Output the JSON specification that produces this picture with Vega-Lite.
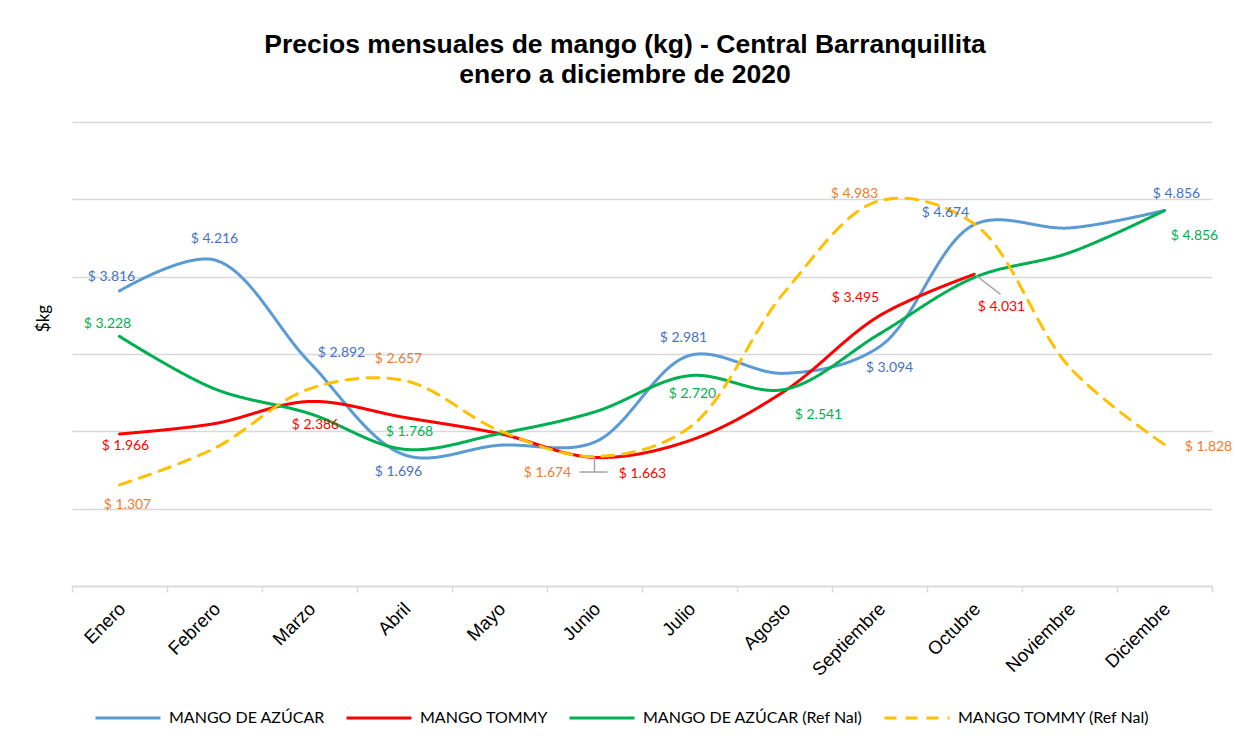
{
  "$schema": "https://vega.github.io/schema/vega-lite/v6.json",
  "width": 1140,
  "height": 464,
  "autosize": {"type": "none"},
  "padding": {"left": 72, "top": 122, "right": 26, "bottom": 161},
  "background": "white",
  "title": {
    "text": ["Precios mensuales de mango (kg) - Central Barranquillita", "enero a diciembre de 2020"],
    "font": "Liberation Sans",
    "fontSize": 26.5,
    "fontWeight": "bold",
    "color": "#000000",
    "lineHeight": 30,
    "anchor": "middle",
    "dx": -17,
    "offset": 34
  },
  "config": {
    "view": {"stroke": null},
    "locale": {"number": {"decimal": ".", "thousands": ",", "grouping": [3], "currency": ["$ ", ""]}},
    "text": {"font": "Lato", "fontSize": 14}
  },
  "data": {
    "values": [
      {"s": "MANGO DE AZÚCAR", "m": "Enero", "v": 3.816},
      {"s": "MANGO DE AZÚCAR", "m": "Febrero", "v": 4.216},
      {"s": "MANGO DE AZÚCAR", "m": "Marzo", "v": 2.892},
      {"s": "MANGO DE AZÚCAR", "m": "Abril", "v": 1.696},
      {"s": "MANGO DE AZÚCAR", "m": "Mayo", "v": 1.82},
      {"s": "MANGO DE AZÚCAR", "m": "Junio", "v": 1.86},
      {"s": "MANGO DE AZÚCAR", "m": "Julio", "v": 2.981},
      {"s": "MANGO DE AZÚCAR", "m": "Agosto", "v": 2.75},
      {"s": "MANGO DE AZÚCAR", "m": "Septiembre", "v": 3.094},
      {"s": "MANGO DE AZÚCAR", "m": "Octubre", "v": 4.674},
      {"s": "MANGO DE AZÚCAR", "m": "Noviembre", "v": 4.63},
      {"s": "MANGO DE AZÚCAR", "m": "Diciembre", "v": 4.856},
      {"s": "MANGO TOMMY", "m": "Enero", "v": 1.966},
      {"s": "MANGO TOMMY", "m": "Febrero", "v": 2.10},
      {"s": "MANGO TOMMY", "m": "Marzo", "v": 2.386},
      {"s": "MANGO TOMMY", "m": "Abril", "v": 2.18},
      {"s": "MANGO TOMMY", "m": "Mayo", "v": 1.97},
      {"s": "MANGO TOMMY", "m": "Junio", "v": 1.663},
      {"s": "MANGO TOMMY", "m": "Julio", "v": 1.88},
      {"s": "MANGO TOMMY", "m": "Agosto", "v": 2.52},
      {"s": "MANGO TOMMY", "m": "Septiembre", "v": 3.495},
      {"s": "MANGO TOMMY", "m": "Octubre", "v": 4.031},
      {"s": "MANGO DE AZÚCAR (Ref Nal)", "m": "Enero", "v": 3.228},
      {"s": "MANGO DE AZÚCAR (Ref Nal)", "m": "Febrero", "v": 2.55},
      {"s": "MANGO DE AZÚCAR (Ref Nal)", "m": "Marzo", "v": 2.23},
      {"s": "MANGO DE AZÚCAR (Ref Nal)", "m": "Abril", "v": 1.768},
      {"s": "MANGO DE AZÚCAR (Ref Nal)", "m": "Mayo", "v": 1.97},
      {"s": "MANGO DE AZÚCAR (Ref Nal)", "m": "Junio", "v": 2.25},
      {"s": "MANGO DE AZÚCAR (Ref Nal)", "m": "Julio", "v": 2.720},
      {"s": "MANGO DE AZÚCAR (Ref Nal)", "m": "Agosto", "v": 2.541},
      {"s": "MANGO DE AZÚCAR (Ref Nal)", "m": "Septiembre", "v": 3.26},
      {"s": "MANGO DE AZÚCAR (Ref Nal)", "m": "Octubre", "v": 3.99},
      {"s": "MANGO DE AZÚCAR (Ref Nal)", "m": "Noviembre", "v": 4.31},
      {"s": "MANGO DE AZÚCAR (Ref Nal)", "m": "Diciembre", "v": 4.856},
      {"s": "MANGO TOMMY (Ref Nal)", "m": "Enero", "v": 1.307},
      {"s": "MANGO TOMMY (Ref Nal)", "m": "Febrero", "v": 1.78},
      {"s": "MANGO TOMMY (Ref Nal)", "m": "Marzo", "v": 2.55},
      {"s": "MANGO TOMMY (Ref Nal)", "m": "Abril", "v": 2.657},
      {"s": "MANGO TOMMY (Ref Nal)", "m": "Mayo", "v": 2.01},
      {"s": "MANGO TOMMY (Ref Nal)", "m": "Junio", "v": 1.674},
      {"s": "MANGO TOMMY (Ref Nal)", "m": "Julio", "v": 2.05},
      {"s": "MANGO TOMMY (Ref Nal)", "m": "Agosto", "v": 3.8},
      {"s": "MANGO TOMMY (Ref Nal)", "m": "Septiembre", "v": 4.983},
      {"s": "MANGO TOMMY (Ref Nal)", "m": "Octubre", "v": 4.68},
      {"s": "MANGO TOMMY (Ref Nal)", "m": "Noviembre", "v": 2.83},
      {"s": "MANGO TOMMY (Ref Nal)", "m": "Diciembre", "v": 1.828}
    ]
  },
  "encoding": {
    "x": {
      "field": "m",
      "type": "ordinal",
      "sort": ["Enero", "Febrero", "Marzo", "Abril", "Mayo", "Junio", "Julio", "Agosto", "Septiembre", "Octubre", "Noviembre", "Diciembre"],
      "scale": {"type": "band", "paddingInner": 0, "paddingOuter": 0},
      "axis": {
        "title": null,
        "labelAngle": -45,
        "labelFont": "Liberation Sans",
        "labelFontSize": 18.5,
        "labelColor": "#000000",
        "labelPadding": 7,
        "labelOffset": -4,
        "domainColor": "#d9d9d9",
        "domainWidth": 1.5,
        "tickColor": "#d9d9d9",
        "tickWidth": 1.5,
        "tickSize": 6,
        "tickBand": "extent",
        "grid": false
      }
    },
    "y": {
      "field": "v",
      "type": "quantitative",
      "scale": {"domain": [0, 6], "nice": false, "zero": true},
      "axis": {
        "title": "$kg",
        "titleFont": "Lato",
        "titleFontSize": 17,
        "titleFontWeight": "normal",
        "titleColor": "#000000",
        "titleX": -20,
        "titleY": 196,
        "labels": false,
        "ticks": false,
        "domain": false,
        "grid": true,
        "gridColor": "#d9d9d9",
        "gridWidth": 1.5,
        "values": [0, 1, 2, 3, 4, 5, 6]
      }
    }
  },
  "layer": [
    {
      "mark": {"type": "line", "interpolate": "catmull-rom", "strokeWidth": 3, "strokeCap": "round"},
      "encoding": {
        "color": {
          "field": "s",
          "type": "nominal",
          "scale": {
            "domain": ["MANGO DE AZÚCAR", "MANGO TOMMY", "MANGO DE AZÚCAR (Ref Nal)", "MANGO TOMMY (Ref Nal)"],
            "range": ["#5B9BD5", "#FF0000", "#00B050", "#FFC000"]
          },
          "legend": {
            "title": null,
            "orient": "none",
            "direction": "horizontal",
            "legendX": 22,
            "legendY": 562,
            "symbolType": "stroke",
            "symbolSize": 4225,
            "symbolStrokeWidth": 3,
            "labelFont": "Lato",
            "labelFontSize": 16,
            "labelColor": "#000000",
            "labelOffset": 7,
            "labelLimit": 400,
            "columnPadding": 15
          }
        },
        "strokeDash": {
          "field": "s",
          "type": "nominal",
          "scale": {
            "domain": ["MANGO DE AZÚCAR", "MANGO TOMMY", "MANGO DE AZÚCAR (Ref Nal)", "MANGO TOMMY (Ref Nal)"],
            "range": [[1, 0], [1, 0], [1, 0], [12, 9]]
          },
          "legend": null
        }
      }
    },
    {
      "transform": [{"filter": "datum.s == 'MANGO TOMMY (Ref Nal)' && datum.m == 'Junio'"}],
      "mark": {"type": "rule", "color": "#a6a6a6", "strokeWidth": 1.5},
      "encoding": {"y2": {"datum": 1.474}}
    },
    {
      "transform": [{"filter": "datum.s == 'MANGO TOMMY (Ref Nal)' && datum.m == 'Junio'"}],
      "mark": {"type": "rule", "color": "#a6a6a6", "strokeWidth": 1.5, "xOffset": -15, "x2Offset": 13},
      "encoding": {"x2": {"field": "m"}, "y": {"datum": 1.474}}
    },
    {
      "transform": [{"filter": "datum.s == 'MANGO TOMMY' && datum.m == 'Octubre'"}],
      "mark": {"type": "rule", "color": "#a6a6a6", "strokeWidth": 1.5, "x2Offset": 26},
      "encoding": {"x2": {"field": "m"}, "y2": {"datum": 3.77}}
    },
    {"transform": [{"filter": "datum.s == 'MANGO DE AZÚCAR' && datum.m == 'Enero'"}], "mark": {"type": "text", "color": "#4472C4", "dx": -8, "dy": -14}, "encoding": {"text": {"field": "v", "format": "$.3f"}}},
    {"transform": [{"filter": "datum.s == 'MANGO DE AZÚCAR' && datum.m == 'Febrero'"}], "mark": {"type": "text", "color": "#4472C4", "dx": 0, "dy": -21}, "encoding": {"text": {"field": "v", "format": "$.3f"}}},
    {"transform": [{"filter": "datum.s == 'MANGO DE AZÚCAR' && datum.m == 'Marzo'"}], "mark": {"type": "text", "color": "#4472C4", "dx": 32, "dy": -9}, "encoding": {"text": {"field": "v", "format": "$.3f"}}},
    {"transform": [{"filter": "datum.s == 'MANGO DE AZÚCAR' && datum.m == 'Abril'"}], "mark": {"type": "text", "color": "#4472C4", "dx": -6, "dy": 17}, "encoding": {"text": {"field": "v", "format": "$.3f"}}},
    {"transform": [{"filter": "datum.s == 'MANGO DE AZÚCAR' && datum.m == 'Julio'"}], "mark": {"type": "text", "color": "#4472C4", "dx": -6, "dy": -17}, "encoding": {"text": {"field": "v", "format": "$.3f"}}},
    {"transform": [{"filter": "datum.s == 'MANGO DE AZÚCAR' && datum.m == 'Septiembre'"}], "mark": {"type": "text", "color": "#4472C4", "dx": 10, "dy": 21}, "encoding": {"text": {"field": "v", "format": "$.3f"}}},
    {"transform": [{"filter": "datum.s == 'MANGO DE AZÚCAR' && datum.m == 'Octubre'"}], "mark": {"type": "text", "color": "#4472C4", "dx": -29, "dy": -12}, "encoding": {"text": {"field": "v", "format": "$.3f"}}},
    {"transform": [{"filter": "datum.s == 'MANGO DE AZÚCAR' && datum.m == 'Diciembre'"}], "mark": {"type": "text", "color": "#4472C4", "dx": 12, "dy": -16}, "encoding": {"text": {"field": "v", "format": "$.3f"}}},
    {"transform": [{"filter": "datum.s == 'MANGO TOMMY' && datum.m == 'Enero'"}], "mark": {"type": "text", "color": "#FF0000", "dx": 6, "dy": 12}, "encoding": {"text": {"field": "v", "format": "$.3f"}}},
    {"transform": [{"filter": "datum.s == 'MANGO TOMMY' && datum.m == 'Marzo'"}], "mark": {"type": "text", "color": "#FF0000", "dx": 6, "dy": 24}, "encoding": {"text": {"field": "v", "format": "$.3f"}}},
    {"transform": [{"filter": "datum.s == 'MANGO TOMMY' && datum.m == 'Junio'"}], "mark": {"type": "text", "color": "#FF0000", "dx": 48, "dy": 17}, "encoding": {"text": {"field": "v", "format": "$.3f"}}},
    {"transform": [{"filter": "datum.s == 'MANGO TOMMY' && datum.m == 'Septiembre'"}], "mark": {"type": "text", "color": "#FF0000", "dx": -24, "dy": -18}, "encoding": {"text": {"field": "v", "format": "$.3f"}}},
    {"transform": [{"filter": "datum.s == 'MANGO TOMMY' && datum.m == 'Octubre'"}], "mark": {"type": "text", "color": "#FF0000", "dx": 27, "dy": 33}, "encoding": {"text": {"field": "v", "format": "$.3f"}}},
    {"transform": [{"filter": "datum.s == 'MANGO DE AZÚCAR (Ref Nal)' && datum.m == 'Enero'"}], "mark": {"type": "text", "color": "#00B050", "dx": -12, "dy": -12}, "encoding": {"text": {"field": "v", "format": "$.3f"}}},
    {"transform": [{"filter": "datum.s == 'MANGO DE AZÚCAR (Ref Nal)' && datum.m == 'Abril'"}], "mark": {"type": "text", "color": "#00B050", "dx": 5, "dy": -17}, "encoding": {"text": {"field": "v", "format": "$.3f"}}},
    {"transform": [{"filter": "datum.s == 'MANGO DE AZÚCAR (Ref Nal)' && datum.m == 'Julio'"}], "mark": {"type": "text", "color": "#00B050", "dx": 3, "dy": 18}, "encoding": {"text": {"field": "v", "format": "$.3f"}}},
    {"transform": [{"filter": "datum.s == 'MANGO DE AZÚCAR (Ref Nal)' && datum.m == 'Agosto'"}], "mark": {"type": "text", "color": "#00B050", "dx": 34, "dy": 26}, "encoding": {"text": {"field": "v", "format": "$.3f"}}},
    {"transform": [{"filter": "datum.s == 'MANGO DE AZÚCAR (Ref Nal)' && datum.m == 'Diciembre'"}], "mark": {"type": "text", "color": "#00B050", "dx": 30, "dy": 26}, "encoding": {"text": {"field": "v", "format": "$.3f"}}},
    {"transform": [{"filter": "datum.s == 'MANGO TOMMY (Ref Nal)' && datum.m == 'Enero'"}], "mark": {"type": "text", "color": "#ED7D31", "dx": 8, "dy": 20}, "encoding": {"text": {"field": "v", "format": "$.3f"}}},
    {"transform": [{"filter": "datum.s == 'MANGO TOMMY (Ref Nal)' && datum.m == 'Abril'"}], "mark": {"type": "text", "color": "#ED7D31", "dx": -6, "dy": -22}, "encoding": {"text": {"field": "v", "format": "$.3f"}}},
    {"transform": [{"filter": "datum.s == 'MANGO TOMMY (Ref Nal)' && datum.m == 'Junio'"}], "mark": {"type": "text", "color": "#ED7D31", "dx": -47, "dy": 16}, "encoding": {"text": {"field": "v", "format": "$.3f"}}},
    {"transform": [{"filter": "datum.s == 'MANGO TOMMY (Ref Nal)' && datum.m == 'Septiembre'"}], "mark": {"type": "text", "color": "#ED7D31", "dx": -25, "dy": -7}, "encoding": {"text": {"field": "v", "format": "$.3f"}}},
    {"transform": [{"filter": "datum.s == 'MANGO TOMMY (Ref Nal)' && datum.m == 'Diciembre'"}], "mark": {"type": "text", "color": "#ED7D31", "dx": 44, "dy": 2}, "encoding": {"text": {"field": "v", "format": "$.3f"}}}
  ]
}
